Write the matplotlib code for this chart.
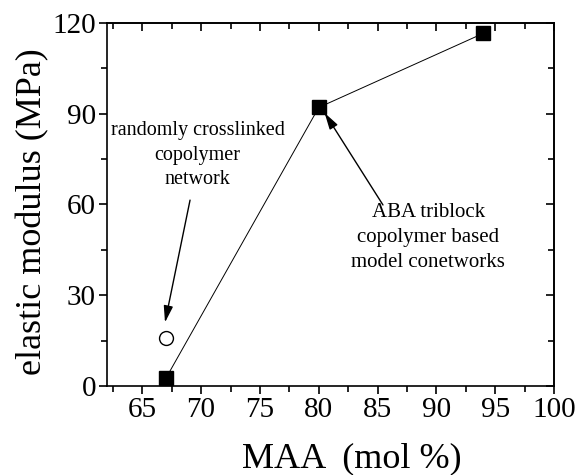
import numpy as np
import matplotlib
matplotlib.use('Agg')
import matplotlib.pyplot as plt
from matplotlib.ticker import MultipleLocator

plt.rcParams['font.family'] = ['Liberation Serif', 'DejaVu Serif']

# data
maa_block = [67, 80, 94]
mod_block = [2.5, 92, 116.5]
maa_random = [67]
mod_random = [16]

fig = plt.figure(figsize=(5.76, 4.75), dpi=100)
ax = fig.add_axes([107/576, 1 - 386/475, (554-107)/576, (386-22.7)/475])

ax.plot(maa_block, mod_block, '-', color='black', lw=0.7, zorder=2)
ax.plot(maa_block, mod_block, 's', color='black', ms=10, zorder=3)
ax.plot(maa_random, mod_random, 'o', mfc='white', mec='black', ms=10, mew=1, zorder=3)

ax.set_xlim(62, 100)
ax.set_ylim(0, 120)
ax.xaxis.set_major_locator(MultipleLocator(5))
ax.xaxis.set_minor_locator(MultipleLocator(2.5))
ax.yaxis.set_major_locator(MultipleLocator(30))
ax.yaxis.set_minor_locator(MultipleLocator(15))

ax.tick_params(which='both', direction='out', top=False, right=False, labelsize=21, width=1.2)
ax.tick_params(which='major', length=6, pad=2)
ax.tick_params(which='minor', length=4)
for sp in ax.spines.values():
    sp.set_linewidth(1.2)

# inward ticks on top and right
sec_x = ax.secondary_xaxis('top')
sec_x.xaxis.set_major_locator(MultipleLocator(5))
sec_x.xaxis.set_minor_locator(MultipleLocator(2.5))
sec_x.tick_params(which='both', direction='in', labeltop=False, width=1.2)
sec_x.tick_params(which='major', length=6)
sec_x.tick_params(which='minor', length=4)
sec_x.spines['top'].set_linewidth(1.2)
sec_y = ax.secondary_yaxis('right')
sec_y.yaxis.set_major_locator(MultipleLocator(30))
sec_y.yaxis.set_minor_locator(MultipleLocator(15))
sec_y.tick_params(which='both', direction='in', labelright=False, width=1.2)
sec_y.tick_params(which='major', length=6)
sec_y.tick_params(which='minor', length=4)
sec_y.spines['right'].set_linewidth(1.2)

ax.set_xlabel('MAA  (mol %)', fontsize=26)
ax.xaxis.set_label_coords(0.548, -0.155)
ax.set_ylabel('elastic modulus (MPa)', fontsize=26)
ax.yaxis.set_label_coords(-0.13, 0.48)

arrow = dict(arrowstyle='-|>,head_length=1.0,head_width=0.28', color='black', lw=1,
             shrinkA=0, shrinkB=0)
ax.text(69.7, 87.5, 'randomly crosslinked\ncopolymer\nnetwork', ha='center', va='top',
        fontsize=14.5, linespacing=1.4)
ax.annotate('', xy=(66.93, 21.0), xytext=(69.06, 61.4), arrowprops=arrow)
ax.text(89.3, 60.5, 'ABA triblock\ncopolymer based\nmodel conetworks', ha='center', va='top',
        fontsize=15, linespacing=1.42)
ax.annotate('', xy=(80.5, 90.2), xytext=(85.46, 59.8), arrowprops=arrow)

fig.savefig('out.png', dpi=100)
